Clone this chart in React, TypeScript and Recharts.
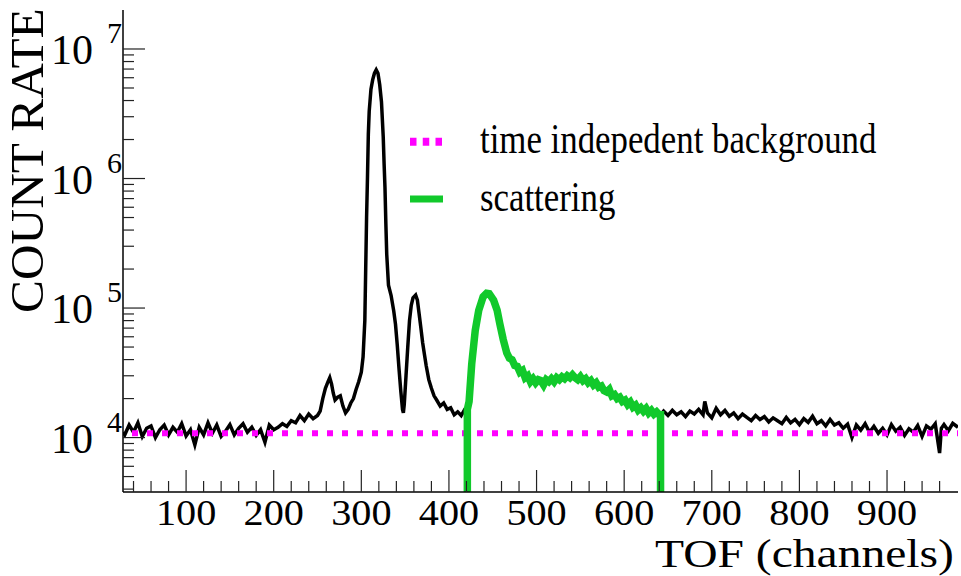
import React from "react";
import { LineChart, Line, XAxis, YAxis, Legend } from "recharts";

const WIDTH = 961;
const HEIGHT = 576;
const FONT = "'Liberation Serif', 'Times New Roman', Times, serif";

// TOF spectrum before the scattering window
const preChannels = [
  28, 30, 35, 40, 45, 50, 55, 60, 65, 70, 75, 80, 85, 90, 95, 100, 105, 110, 115, 120,
  125, 130, 135, 140, 145, 150, 155, 160, 165, 170, 175, 180, 185, 190, 195, 200, 205,
  210, 215, 220, 225, 230, 235, 240, 245, 250, 253, 256, 259, 262, 264, 266, 268, 270,
  273, 276, 279, 282, 285, 288, 291, 294, 297, 300, 302, 304, 305, 306, 307, 308, 309,
  311, 313, 315, 317, 319, 321, 323, 325, 326, 327, 328, 329, 331, 334, 337, 339, 341,
  343, 345, 347, 348, 349, 351, 353, 355, 357, 359, 362, 364, 366, 368, 370, 372, 374,
  377, 380, 383, 386, 390, 394, 398, 402, 406, 410, 414, 418,
];
const preCounts = [
  11000, 10500, 12500, 11000, 13000, 10200, 11800, 12300, 10000, 11500, 12500, 10500,
  12000, 11000, 12800, 10300, 11500, 8800, 12000, 10500, 13000, 10800, 12500, 10200,
  11200, 12600, 10500, 11800, 12800, 11000, 12000, 10400, 11500, 9200, 12500, 11500,
  12000, 12800, 12200, 13500, 13000, 14800, 13500, 15200, 14000, 14800, 16000, 20000,
  24000, 27000, 29000, 26000, 22000, 19500, 20500, 21000, 17500, 15500, 16500, 18500,
  20000, 23500, 27000, 32000, 42000, 80000, 200000, 500000, 1000000, 2200000, 3300000,
  4900000, 5800000, 6500000, 6900000, 6500000, 5300000, 3900000, 2100000, 1300000,
  850000, 450000, 260000, 150000, 125000, 95000, 75000, 52000, 34000, 23000, 16500,
  15500, 18000, 30000, 50000, 80000, 105000, 120000, 126000, 115000, 90000, 70000,
  54000, 44000, 36000, 28000, 24000, 21000, 19500, 17500, 18500, 16500, 17000, 15000,
  15800, 14800, 16500,
];

// scattering window, zero outside its edges
const scatChannels = [
  421, 421, 423, 426, 430, 434, 439, 443, 446, 451, 455, 458, 462, 466, 469, 472, 475,
  478, 481, 484, 487, 490, 493, 496, 499, 502, 505, 508, 511, 514, 517, 520, 523, 526,
  529, 532, 535, 538, 541, 544, 547, 550, 553, 556, 559, 562, 565, 568, 571, 574, 577,
  580, 583, 586, 589, 592, 595, 598, 601, 604, 607, 610, 613, 616, 619, 622, 625, 628,
  631, 634, 637, 640, 641.5, 641.5,
];
const scatCounts = [
  1, 16500, 19000, 37000, 67000, 96000, 122000, 130000, 129000, 115000, 96000, 76000,
  57000, 45000, 41000, 40000, 36000, 35500, 32000, 33000, 29000, 30000, 27000, 28500,
  26500, 28000, 27500, 25500, 28000, 27000, 28500, 27000, 29000, 28000, 29500, 28500,
  30000, 29000, 30500, 29000, 28000, 29500, 27500, 28500, 26500, 27500, 25500, 26500,
  24500, 25000, 23000, 22500, 23500, 21000, 21500, 20000, 20500, 19000, 19500, 18000,
  18800, 17200, 17800, 16300, 17000, 16000, 16800, 15500, 16200, 15200, 15800, 15000,
  15000, 1,
];

// TOF spectrum after the window
const postChannels = [
  645, 650, 655, 660, 665, 670, 675, 680, 685, 690, 692, 695, 700, 705, 710, 715, 720,
  725, 730, 735, 740, 745, 750, 755, 760, 765, 770, 775, 780, 785, 790, 795, 800, 805,
  810, 815, 820, 825, 830, 835, 840, 845, 850, 855, 860, 865, 870, 875, 880, 885, 890,
  895, 900, 905, 910, 915, 920, 925, 930, 935, 940, 945, 950, 955, 960, 962, 965, 970,
  975, 981,
];
const postCounts = [
  16000, 14800, 16200, 15000, 15800, 14500, 16000, 15200, 16500, 15000, 19000, 15500,
  14200, 16800, 15000, 16200, 14600, 15500, 14000, 15200, 14300, 13500, 14800, 13800,
  14500, 13200, 14200, 13500, 12800, 14300, 13000, 13800, 12600, 14000, 13100, 14600,
  12800, 13500, 12300, 13800, 12500, 13000, 11800, 12700, 10000, 12500, 11400, 12800,
  11000, 12200, 10800, 11800, 10500, 12600, 11200, 12000, 10400, 11700, 11000, 12400,
  10200, 12300, 11600, 12800, 7600, 11800, 12600, 11300, 12900, 12000,
];

const bgLevel = 10800;
const xRange = [28, 981];
const yRange = [3800, 2e7];

const xTicks = [
  40, 60, 80, 100, 120, 140, 160, 180, 200, 220, 240, 260, 280, 300, 320, 340, 360, 380,
  400, 420, 440, 460, 480, 500, 520, 540, 560, 580, 600, 620, 640, 660, 680, 700, 720,
  740, 760, 780, 800, 820, 840, 860, 880, 900, 920, 940, 960,
];
const yTicks = [
  4e3, 5e3, 6e3, 7e3, 8e3, 9e3, 1e4, 2e4, 3e4, 4e4, 5e4, 6e4, 7e4, 8e4, 9e4, 1e5, 2e5,
  3e5, 4e5, 5e5, 6e5, 7e5, 8e5, 9e5, 1e6, 2e6, 3e6, 4e6, 5e6, 6e6, 7e6, 8e6, 9e6, 1e7,
];

const zip = (ch: number[], v: number[]) => ch.map((c, i) => ({ ch: c, v: v[i] }));
const scatData = zip(scatChannels, scatCounts);
const spectrumData = [
  ...zip(preChannels, preCounts),
  ...scatData.slice(1, -1),
  ...zip(postChannels, postCounts),
];
const bgData = [
  { ch: xRange[0], v: bgLevel },
  { ch: xRange[1], v: bgLevel },
];

const TICK = "#222";
const isMajorX = (v: number) => v % 100 === 0;
const isMajorY = (v: number) => {
  const l = Math.log10(v);
  return Math.abs(l - Math.round(l)) < 1e-9;
};

const BottomTick = ({ x, y, payload }: any) => {
  const major = isMajorX(payload.value);
  return (
    <g>
      <line x1={x} x2={x} y1={y} y2={y - (major ? 22 : 11)} stroke={TICK} strokeWidth={1.2} />
      {major && (
        <text
          transform={`translate(${x},${y + 33}) scale(1.15,1)`}
          textAnchor="middle"
          fontFamily={FONT}
          fontSize={35}
          fill="#000"
        >
          {payload.value}
        </text>
      )}
    </g>
  );
};

const TopTick = ({ x, y, payload }: any) => {
  const major = isMajorX(payload.value);
  return <line x1={x} x2={x} y1={y} y2={y + (major ? 22 : 11)} stroke={TICK} strokeWidth={1.2} />;
};

const LeftTick = ({ x, y, payload }: any) => {
  const major = isMajorY(payload.value);
  const exp = Math.round(Math.log10(payload.value));
  return (
    <g>
      <line x1={x} x2={x + (major ? 22 : 11)} y1={y} y2={y} stroke={TICK} strokeWidth={1.2} />
      {major && (
        <g fontFamily={FONT} fill="#000">
          <text x={x - 30} y={y + 15} textAnchor="end" fontSize={42}>
            10
          </text>
          <text x={x - 16} y={y - 6} textAnchor="start" fontSize={30}>
            {exp}
          </text>
        </g>
      )}
    </g>
  );
};

const RightTick = ({ x, y, payload }: any) => {
  const major = isMajorY(payload.value);
  return <line x1={x} x2={x - (major ? 22 : 11)} y1={y} y2={y} stroke={TICK} strokeWidth={1.2} />;
};

const legendOrder = ["time indepedent background", "scattering"];
const legendLook: Record<string, { dash?: string; width: number }> = {
  "time indepedent background": { dash: "6.5 6.25", width: 8 },
  scattering: { width: 7 },
};

const renderLegend = ({ payload }: any) => {
  const items = (payload || [])
    .filter((p: any) => legendLook[p.value])
    .sort((a: any, b: any) => legendOrder.indexOf(a.value) - legendOrder.indexOf(b.value));
  return (
    <svg width={WIDTH} height={HEIGHT} style={{ display: "block" }}>
      {items.map((item: any, i: number) => {
        const cy = 141.7 + i * 57.3;
        const look = legendLook[item.value];
        return (
          <g key={item.value}>
            <line
              x1={410}
              x2={443}
              y1={cy}
              y2={cy}
              stroke={item.color}
              strokeWidth={look.width}
              strokeDasharray={look.dash}
            />
            <text
              transform={`translate(480,${cy + 11.5}) scale(0.81,1)`}
              fontFamily={FONT}
              fontSize={43}
              fill="#000"
            >
              {item.value}
            </text>
          </g>
        );
      })}
    </svg>
  );
};

const YTitle = () => (
  <text
    transform="translate(43,313) rotate(-90) scale(1.05,1)"
    fontFamily={FONT}
    fontSize={47}
    fill="#000"
  >
    COUNT RATE
  </text>
);

const XTitle = () => (
  <text transform="translate(655,567) scale(1.16,1)" fontFamily={FONT} fontSize={41} fill="#000">
    TOF (channels)
  </text>
);

const frame = { stroke: "#000", strokeWidth: 1.5 };

export default function App() {
  return (
    <div style={{ position: "absolute", left: 0, top: 0, background: "#fff" }}>
      <LineChart
        width={WIDTH}
        height={HEIGHT}
        margin={{ top: 10, right: 3, bottom: 24, left: 23 }}
      >
        <XAxis
          xAxisId="bottom"
          dataKey="ch"
          type="number"
          domain={xRange}
          allowDataOverflow
          ticks={xTicks}
          interval={0}
          tickSize={0}
          tickMargin={0}
          tickLine={false}
          tick={BottomTick}
          height={60}
          axisLine={frame}
          label={<XTitle />}
        />
        <XAxis
          xAxisId="top"
          orientation="top"
          dataKey="ch"
          type="number"
          domain={xRange}
          allowDataOverflow
          ticks={xTicks}
          interval={0}
          tickSize={0}
          tickMargin={0}
          tickLine={false}
          tick={TopTick}
          height={0}
          axisLine={frame}
        />
        <YAxis
          yAxisId="left"
          type="number"
          scale="log"
          domain={yRange}
          allowDataOverflow
          ticks={yTicks}
          interval={0}
          tickSize={0}
          tickMargin={0}
          tickLine={false}
          tick={LeftTick}
          width={100}
          axisLine={frame}
          label={<YTitle />}
        />
        <YAxis
          yAxisId="right"
          orientation="right"
          type="number"
          scale="log"
          domain={yRange}
          allowDataOverflow
          ticks={yTicks}
          interval={0}
          tickSize={0}
          tickMargin={0}
          tickLine={false}
          tick={RightTick}
          width={0}
          axisLine={frame}
        />
        <Line
          xAxisId="bottom"
          yAxisId="left"
          data={spectrumData}
          dataKey="v"
          name="spectrum"
          type="linear"
          stroke="#000"
          strokeWidth={3.5}
          dot={false}
          legendType="none"
          isAnimationActive={false}
        />
        <Line
          xAxisId="top"
          yAxisId="right"
          data={bgData}
          dataKey="v"
          name="time indepedent background"
          type="linear"
          stroke="#ff00ff"
          strokeWidth={6}
          strokeDasharray="6 9"
          strokeDashoffset={6}
          dot={false}
          isAnimationActive={false}
        />
        <Line
          xAxisId="bottom"
          yAxisId="left"
          data={scatData}
          dataKey="v"
          name="scattering"
          type="linear"
          stroke="#11c92b"
          strokeWidth={7.5}
          dot={false}
          isAnimationActive={false}
        />
        <Legend
          layout="horizontal"
          verticalAlign="middle"
          align="center"
          content={renderLegend}
          wrapperStyle={{ left: 0, top: 0, width: WIDTH, height: HEIGHT, pointerEvents: "none" }}
        />
      </LineChart>
    </div>
  );
}
